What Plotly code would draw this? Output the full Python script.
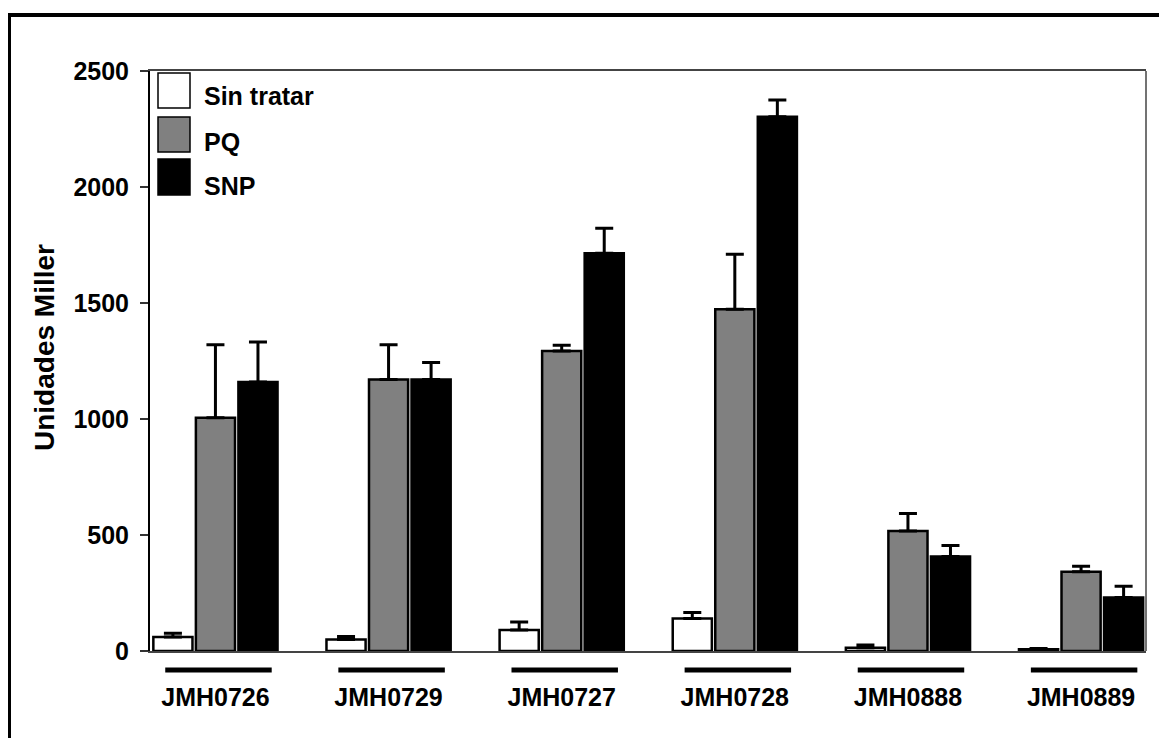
import plotly.graph_objects as go

# ---- data ----
categories = ["JMH0726", "JMH0729", "JMH0727", "JMH0728", "JMH0888", "JMH0889"]
sin_tratar = [60, 50, 90, 140, 14, 8]
sin_tratar_err = [16, 12, 35, 26, 12, 3]
pq = [1005, 1170, 1293, 1473, 517, 342]
pq_err = [315, 150, 25, 237, 76, 23]
snp = [1160, 1170, 1714, 2303, 407, 231]
snp_err = [172, 74, 108, 72, 48, 48]
y_ticks = [0, 500, 1000, 1500, 2000, 2500]
series_names = ["Sin tratar", "PQ", "SNP"]
series_colors = ["#ffffff", "#808080", "#000000"]

FONT = "Liberation Sans, Arial, sans-serif"

xpos = list(range(len(categories)))

fig = go.Figure()
for name, vals, errs, col in zip(series_names, [sin_tratar, pq, snp],
                                 [sin_tratar_err, pq_err, snp_err], series_colors):
    fig.add_trace(go.Bar(
        x=xpos, y=vals, name=name,
        marker=dict(color=col, line=dict(color="#000000", width=2.5)),
        error_y=dict(type="data", array=errs, arrayminus=[0] * len(errs),
                     symmetric=False, color="#000000", thickness=3, width=9),
        showlegend=False,
    ))

# page body adds an 8px offset; work in screen pixels and convert
OFF = 8
W, H = 1167 - OFF, 738 - OFF
SL, SR, ST, SB = 150, 1146, 71, 651  # plot area in screen pixels
L, T = SL - OFF, ST - OFF
R, B = W - (SR - OFF), H - (SB - OFF)
pw, ph = W - L - R, H - T - B

def px_x(p):
    return (p - OFF - L) / pw

def px_y(p):
    return (H - B - (p - OFF)) / ph

shapes = []
# outer frame (cut off at right / bottom)
shapes.append(dict(type="rect", xref="paper", yref="paper",
                   x0=px_x(9), y0=px_y(15), x1=1.2, y1=-0.6,
                   line=dict(color="#000000", width=4), layer="below"))
# right frame line of the plot area
shapes.append(dict(type="line", xref="paper", yref="paper", x0=1, x1=1, y0=0, y1=1,
                   line=dict(color="#444444", width=1.5)))
# group underlines
for i in xpos:
    shapes.append(dict(type="line", xref="x", yref="paper",
                       x0=i - 0.29, x1=i + 0.325, y0=px_y(670), y1=px_y(670),
                       line=dict(color="#000000", width=5)))

# manual legend
annotations = []
legend_boxes = [(73, 108), (117, 152), (159, 195)]
legend_text_y = [96, 142, 186]
for (top, bot), ty, name, col in zip(legend_boxes, legend_text_y, series_names, series_colors):
    shapes.append(dict(type="rect", xref="paper", yref="paper",
                       x0=px_x(158), x1=px_x(190), y0=px_y(bot), y1=px_y(top),
                       fillcolor=col, line=dict(color="#000000", width=1.5)))
    annotations.append(dict(text=name, xref="paper", yref="paper",
                            x=px_x(202), y=px_y(ty), xanchor="left", yanchor="middle",
                            showarrow=False,
                            font=dict(family=FONT, size=25, color="#000000", weight="bold")))

annotations.append(dict(text="Unidades Miller", xref="paper", yref="paper",
                        x=px_x(44), y=px_y(348), xanchor="center", yanchor="middle",
                        textangle=-90, showarrow=False,
                        font=dict(family=FONT, size=28, color="#000000", weight="bold")))

fig.update_layout(
    width=W, height=H,
    margin=dict(l=L, r=R, t=T, b=B, pad=0),
    paper_bgcolor="#ffffff", plot_bgcolor="#ffffff",
    barmode="group", bargap=0.263, bargroupgap=0.08,
    shapes=shapes, annotations=annotations,
    xaxis=dict(range=[-0.378, 5.375], tickvals=xpos, ticktext=categories,
               showgrid=False, zeroline=False, showline=True, mirror=True,
               linecolor="#444444", linewidth=1.5, ticks="", ticklabelstandoff=23,
               tickfont=dict(family=FONT, size=25, color="#000000", weight="bold")),
    yaxis=dict(range=[0, 2500], tickvals=y_ticks, showgrid=False, zeroline=False,
               showline=True, linecolor="#000000", linewidth=2,
               ticks="outside", ticklen=8, tickwidth=1.5, tickcolor="#333333",
               ticklabelstandoff=6,
               tickfont=dict(family=FONT, size=25, color="#000000", weight="bold")),
)

fig.write_html("out.html")
